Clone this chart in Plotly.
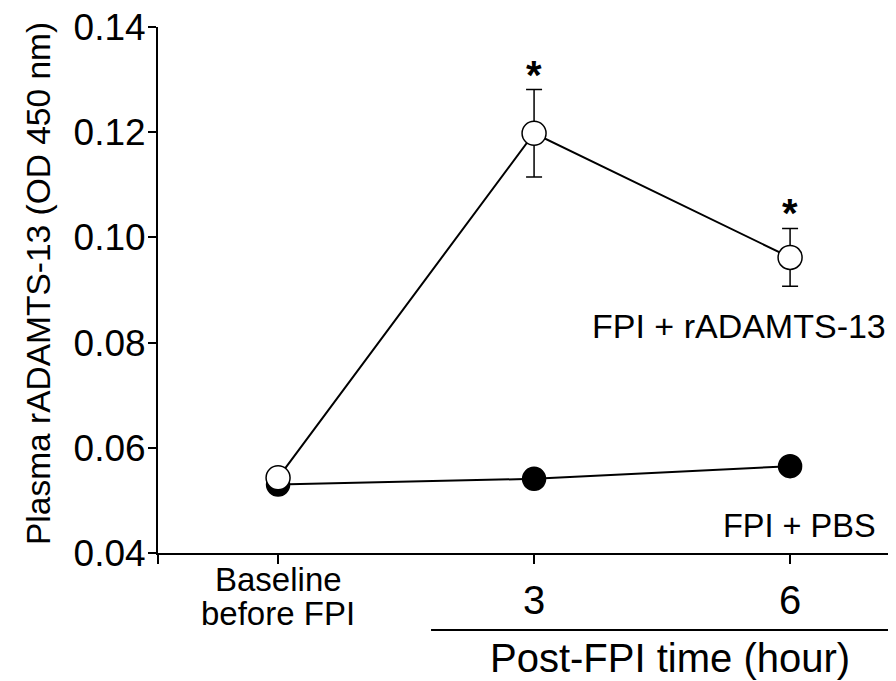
import plotly.graph_objects as go

# ---- data ----
time_labels = ["Baseline before FPI", "3", "6"]
x_pos = [0, 1, 2]
radamts_mean = [0.0543, 0.1198, 0.0962]
radamts_se = [0.0, 0.0083, 0.0055]
pbs_mean = [0.0530, 0.0541, 0.0565]
pbs_se = [0.0, 0.0, 0.0]
sig_marks = ["", "*", "*"]
y_ticks = [0.04, 0.06, 0.08, 0.10, 0.12, 0.14]
y_ticktext = ["0.04", "0.06", "0.08", "0.10", "0.12", "0.14"]

FONT = "Liberation Sans, Arial, sans-serif"

fig = go.Figure()

fig.add_trace(go.Scatter(
    x=x_pos, y=pbs_mean, mode="lines+markers",
    line=dict(color="black", width=2),
    marker=dict(size=23, color="black", line=dict(color="black", width=1.5)),
    name="FPI + PBS", showlegend=False, cliponaxis=False,
))
fig.add_trace(go.Scatter(
    x=x_pos, y=radamts_mean, mode="lines+markers",
    line=dict(color="black", width=2),
    marker=dict(size=24, color="white", line=dict(color="black", width=1.5)),
    error_y=dict(type="data", array=radamts_se, visible=True,
                 color="black", thickness=1.5, width=8),
    name="FPI + rADAMTS-13", showlegend=False, cliponaxis=False,
))

ann = []
# significance asterisks
for xi, yi, se, s in zip(x_pos, radamts_mean, radamts_se, sig_marks):
    if s:
        ann.append(dict(x=xi, y=yi + se, xref="x", yref="y", text="<b>" + s + "</b>",
                        showarrow=False, xanchor="center", yanchor="bottom", yshift=-9,
                        font=dict(family=FONT, size=40, color="black")))
# category labels
base_lines = time_labels[0].split(" ", 1)
ann.append(dict(x=x_pos[0], y=-0.0513, xref="x", yref="paper", text=base_lines[0],
                showarrow=False, xanchor="center", yanchor="middle",
                font=dict(family=FONT, size=33, color="black")))
ann.append(dict(x=x_pos[0], y=-0.1141, xref="x", yref="paper", text=base_lines[1],
                showarrow=False, xanchor="center", yanchor="middle",
                font=dict(family=FONT, size=33, color="black")))
for xi, lab in zip(x_pos[1:], time_labels[1:]):
    ann.append(dict(x=xi, y=-0.0894, xref="x", yref="paper", text=lab,
                    showarrow=False, xanchor="center", yanchor="middle",
                    font=dict(family=FONT, size=40, color="black")))
ann.append(dict(x=0.686, y=-0.1996, xref="paper", yref="paper",
                text="Post-FPI time (hour)", showarrow=False,
                xanchor="center", yanchor="middle", borderpad=0,
                font=dict(family=FONT, size=40, color="black")))
ann.append(dict(x=1.80, y=0.0832, xref="x", yref="y", text="FPI + rADAMTS-13",
                showarrow=False, xanchor="center", yanchor="middle",
                font=dict(family=FONT, size=34, color="black")))
ann.append(dict(x=2.035, y=0.0451, xref="x", yref="y", text="FPI + PBS",
                showarrow=False, xanchor="center", yanchor="middle",
                font=dict(family=FONT, size=32.5, color="black")))
ann.append(dict(x=-0.1609, y=0.5133, xref="paper", yref="paper",
                text="Plasma rADAMTS-13 (OD 450 nm)", textangle=-90,
                showarrow=False, xanchor="center", yanchor="middle",
                font=dict(family=FONT, size=33.5, color="black")))

fig.update_layout(
    width=896, height=681,
    margin=dict(l=150, r=0, t=19, b=136),
    plot_bgcolor="white", paper_bgcolor="white",
    annotations=ann,
    shapes=[dict(type="line", xref="paper", yref="paper", x0=0.366, x1=1.0,
                 y0=-0.1464, y1=-0.1464, line=dict(color="black", width=2))],
    font=dict(family=FONT, color="black"),
)
fig.update_xaxes(
    range=[-0.469, 2.445], showgrid=False, zeroline=False,
    showline=True, linecolor="black", linewidth=2,
    tickvals=[-0.469] + x_pos, ticktext=[""] * 4, ticks="outside",
    ticklen=9, tickwidth=2, tickcolor="black", showticklabels=False,
)
fig.update_yaxes(
    range=[0.04, 0.14], showgrid=False, zeroline=False,
    showline=True, linecolor="black", linewidth=2,
    tickvals=y_ticks, ticktext=y_ticktext, ticks="outside",
    ticklen=8, tickwidth=2, tickcolor="black",
    tickfont=dict(family=FONT, size=37, color="black"),
    ticklabeloverflow="allow", ticklabelstandoff=-5,
)

fig.write_html("out.html")
